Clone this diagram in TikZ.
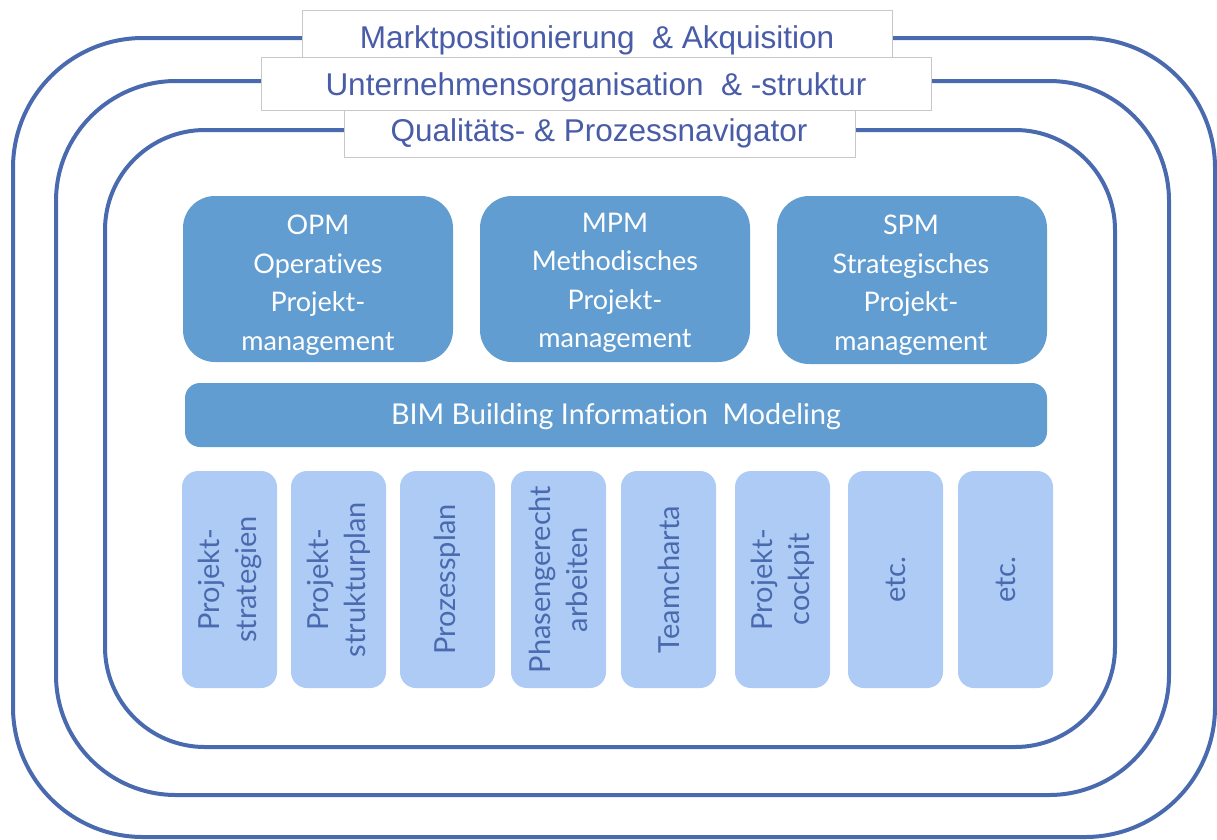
\documentclass[tikz,border=0pt]{standalone}
\usepackage{fontspec}
\setmainfont{Lato}[Ligatures=NoCommon]
\newfontfamily\arialfont{Liberation Sans}
\definecolor{ringblue}{RGB}{74,106,175}
\definecolor{labblue}{RGB}{72,92,168}
\definecolor{midblue}{RGB}{97,157,208}
\definecolor{lightblue}{RGB}{173,203,245}
\definecolor{boxgray}{RGB}{200,200,200}
\tikzset{
  ring/.style={draw=ringblue, line width=4pt},
  lab/.style={draw=boxgray, fill=white, line width=1pt},
  labtext/.style={text=labblue, font=\arialfont\fontsize{31.5}{34}\selectfont},
  pm/.style={fill=midblue, rounded corners=32pt},
  pmtext/.style={text=white, align=center, font=\fontsize{27}{38.5}\selectfont},
  tool/.style={fill=lightblue, rounded corners=16pt},
  tooltext/.style={text=ringblue, rotate=90, align=center, font=\fontsize{29}{37}\selectfont},
}
\begin{document}
\begin{tikzpicture}[x=1pt,y=-1pt]
\useasboundingbox (0,0) rectangle (1217,839);
% rings
\draw[ring, rounded corners=130pt] (13,38) rectangle (1215,837);
\draw[ring, rounded corners=120pt] (56,81) rectangle (1169,795);
\draw[ring, rounded corners=100pt] (105,130) rectangle (1115,747);
% labels
\filldraw[lab] (302,10) rectangle (892,57);
\node[labtext] (l1) at (597,40) {Marktpositionierung \ \& Akquisition};
\filldraw[lab] (261,57) rectangle (931,110);
\node[labtext] (l2) at (596,87) {Unternehmensorganisation \ \& -struktur};
\filldraw[lab] (344,110) rectangle (855,157);
\node[labtext] (l3) at (599,133) {Qualitäts- \& Prozessnavigator};
% PM boxes
\fill[pm] (183,196) rectangle (453,362);
\node[pmtext] (opm) at (318,285) {OPM\\Operatives\\Projekt-\\management};
\fill[pm] (480,196) rectangle (750,362);
\node[pmtext] (mpm) at (615,283) {MPM\\Methodisches\\Projekt-\\management};
\fill[pm] (777,196) rectangle (1047,364);
\node[pmtext] (spm) at (911,285) {SPM\\Strategisches\\Projekt-\\management};
% BIM
\fill[midblue, rounded corners=15pt] (185,383) rectangle (1047,447);
\node[text=white, font=\fontsize{28.7}{32}\selectfont] (bim) at (616,417) {BIM Building Information \ Modeling};
% tools
\foreach \x/\t [count=\i] in {182/{Projekt-\\strategien},291/{Projekt-\\strukturplan},400/{Prozessplan},511/{Phasengerecht\\arbeiten},621/{Teamcharta},735/{Projekt-\\cockpit},848/{etc.},958/{etc.}}{
  \fill[tool] (\x,471) rectangle ++(95,217);
  \node[tooltext] (t\i) at (\x+47.5,579.5) {\t};
}
\end{tikzpicture}
\end{document}
